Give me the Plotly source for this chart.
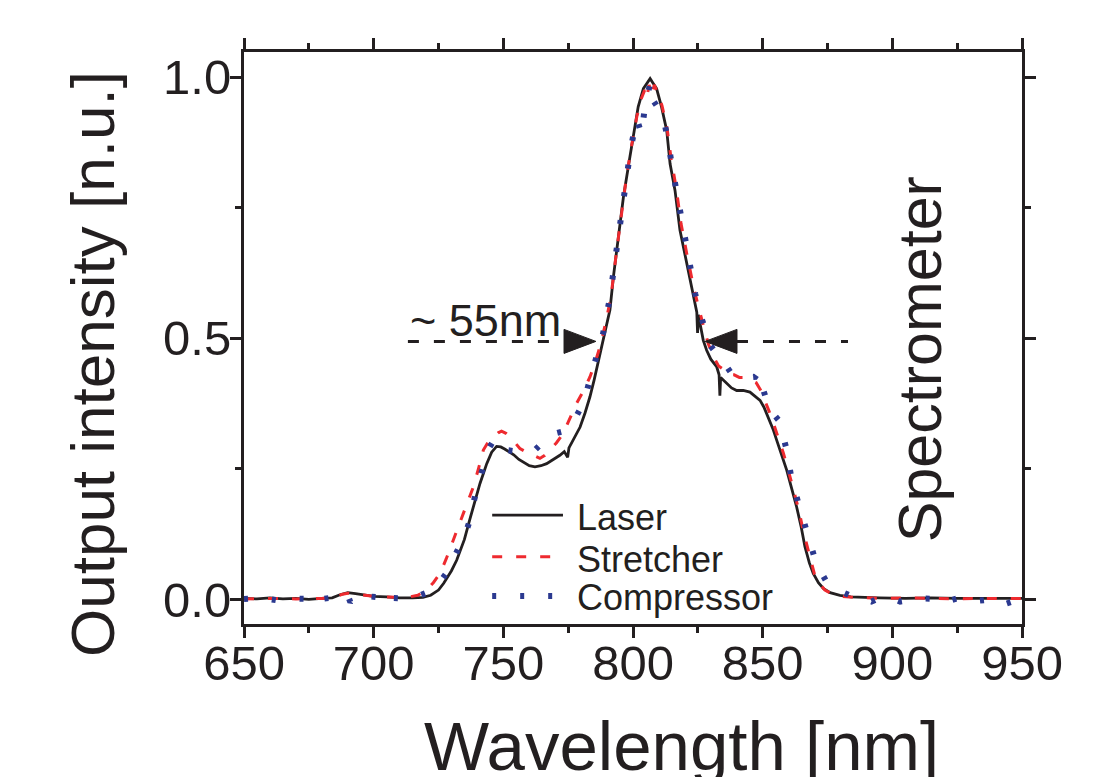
import plotly.graph_objects as go

# ---------------- data ----------------
laser_x = [650, 655, 660, 665, 670, 675, 680, 684, 687, 690, 693, 697, 700, 705, 710, 715, 719, 722, 725, 727,
           730, 732, 735, 737, 739, 741, 743.6, 745.5, 747.4, 749, 750.5, 752, 754, 756, 758, 760, 762.2, 764.5,
           766.7, 769, 771.8, 773.5, 774.8, 775.3, 777, 779.6, 781.5, 783.4, 785, 786.5, 788.6, 791.1, 792.5,
           794.3, 796.3, 798.8, 800.5, 802, 804, 805, 806.6, 807.5, 809.1, 811, 813, 814.3, 816.2, 818.1, 820.7,
           823.3, 824.6, 824.9, 825.2, 827.1, 828.4, 830, 832.3, 833.2, 833.5, 833.8, 836.1, 838, 840, 842.5,
           845.1, 847, 849, 850.5, 852.2, 854, 855.4, 857.5, 859.3, 861.2, 863.1, 864.8, 866.3, 868, 869.5,
           871.5, 873.4, 876, 879.8, 884, 887.5, 895, 905, 915, 925, 935, 945, 950]
laser_y = [0.002, 0.001, 0.003, 0.001, 0.002, 0.000, 0.002, 0.003, 0.009, 0.013, 0.011, 0.008, 0.006, 0.005,
           0.003, 0.003, 0.004, 0.008, 0.018, 0.031, 0.055, 0.075, 0.115, 0.152, 0.188, 0.222, 0.260, 0.282,
           0.293, 0.292, 0.288, 0.283, 0.277, 0.268, 0.262, 0.256, 0.254, 0.256, 0.260, 0.267, 0.276, 0.283,
           0.272, 0.290, 0.305, 0.330, 0.357, 0.388, 0.420, 0.452, 0.496, 0.554, 0.620, 0.694, 0.770, 0.847,
           0.900, 0.943, 0.978, 0.985, 0.997, 0.990, 0.978, 0.943, 0.898, 0.834, 0.783, 0.707, 0.643, 0.579,
           0.550, 0.510, 0.545, 0.496, 0.477, 0.460, 0.445, 0.430, 0.390, 0.425, 0.413, 0.405, 0.400, 0.400,
           0.397, 0.390, 0.381, 0.368, 0.349, 0.326, 0.305, 0.275, 0.247, 0.212, 0.177, 0.140, 0.101, 0.070,
           0.050, 0.032, 0.021, 0.013, 0.008, 0.005, 0.004, 0.003, 0.002, 0.003, 0.002, 0.002, 0.001, 0.002]

stretcher_x = [650, 660, 670, 680, 685, 688, 690, 694, 698, 702, 708, 713, 717, 720.4, 723, 725.6, 728, 730.7,
               732.5, 734.6, 736.5, 738.4, 740.5, 742.3, 744, 746.1, 748, 749.3, 751, 752.6, 754.5, 756.4, 758.5,
               760.3, 762, 764.1, 766, 768, 770.5, 773.1, 775.5, 778.2, 781, 783.4, 785.5, 787.2, 789.5, 791.5,
               793.5, 795.5, 797.5, 799.5, 801.5, 803.3, 804.5, 805.3, 806.2, 807.3, 808.2, 809.5, 811.2, 813.2,
               814.8, 816.6, 818.5, 821, 823.5, 825.5, 827.3, 829, 831, 833, 835, 837, 839, 841, 843.5, 845.5,
               847.5, 849.3, 851, 852.5, 854.3, 856, 858, 860, 862, 864, 865.7, 867.2, 868.7, 870, 872, 874, 877,
               880, 886, 895, 905, 915, 925, 935, 945, 950]
stretcher_y = [0.001, 0.002, 0.001, 0.002, 0.004, 0.010, 0.012, 0.010, 0.007, 0.005, 0.004, 0.004, 0.008, 0.018,
               0.032, 0.050, 0.078, 0.113, 0.138, 0.165, 0.190, 0.215, 0.252, 0.286, 0.300, 0.311, 0.319, 0.322,
               0.318, 0.311, 0.300, 0.289, 0.283, 0.279, 0.275, 0.270, 0.276, 0.286, 0.300, 0.318, 0.345, 0.375,
               0.400, 0.426, 0.455, 0.483, 0.530, 0.580, 0.660, 0.740, 0.810, 0.870, 0.925, 0.960, 0.975, 0.960,
               0.985, 0.965, 0.985, 0.970, 0.945, 0.900, 0.840, 0.790, 0.720, 0.655, 0.595, 0.555, 0.520, 0.490,
               0.465, 0.447, 0.440, 0.430, 0.430, 0.425, 0.425, 0.420, 0.415, 0.400, 0.380, 0.360, 0.335, 0.310,
               0.280, 0.245, 0.205, 0.170, 0.130, 0.100, 0.072, 0.048, 0.030, 0.018, 0.010, 0.006, 0.004, 0.002,
               0.003, 0.002, 0.001, 0.002, 0.002, 0.002]

compressor_x = [650, 657, 663, 668, 675, 678, 680, 685, 688, 690, 691, 693, 698, 702, 703.5, 706, 712, 716, 720,
                723, 725.6, 728, 731, 733.9, 736, 737, 739.7, 742.3, 744.5, 746.7, 748.5, 751.3, 754, 757, 760,
                762.2, 765, 767.3, 770, 772.4, 775, 777.6, 780.8, 783.4, 786, 788.5, 791, 793, 795, 797, 799, 800,
                801.5, 803.3, 804.5, 806, 806.8, 807.8, 809, 810.5, 812, 813.5, 815, 817, 819, 821.5, 824, 826,
                828, 830, 831.5, 833.6, 835.5, 837.5, 840, 842.5, 845, 847.1, 848.3, 849.2, 850.3, 852, 853.5,
                855, 856.7, 858, 859.3, 861.2, 862.8, 864.4, 866, 867.6, 870, 872.1, 874.5, 877, 879.8, 884, 888,
                892, 895, 900, 903, 910, 917, 920, 925, 932, 940, 944, 950]
compressor_y = [0.001, 0.003, -0.002, 0.002, 0.001, -0.008, 0.001, 0.004, 0.010, 0.008, -0.005, 0.008, 0.006,
                0.004, -0.008, 0.003, 0.002, 0.004, 0.012, 0.022, 0.034, 0.050, 0.078, 0.110, 0.135, 0.150, 0.212,
                0.260, 0.290, 0.308, 0.302, 0.286, 0.284, 0.282, 0.285, 0.286, 0.300, 0.314, 0.318, 0.321, 0.332,
                0.346, 0.375, 0.420, 0.467, 0.510, 0.575, 0.650, 0.730, 0.800, 0.860, 0.885, 0.920, 0.890, 0.940,
                0.975, 0.990, 0.955, 0.945, 0.935, 0.915, 0.880, 0.830, 0.775, 0.710, 0.645, 0.585, 0.545, 0.510,
                0.485, 0.475, 0.464, 0.450, 0.436, 0.430, 0.428, 0.425, 0.426, 0.435, 0.410, 0.400, 0.375, 0.359,
                0.350, 0.340, 0.310, 0.286, 0.228, 0.200, 0.171, 0.140, 0.113, 0.080, 0.056, 0.035, 0.022, 0.015,
                0.007, 0.004, -0.004, 0.003, 0.002, -0.004, 0.002, 0.001, -0.006, 0.002, -0.003, 0.001, -0.008,
                0.002]

series_names = ["Laser", "Stretcher", "Compressor"]
x_tick_vals = [650, 700, 750, 800, 850, 900, 950]
y_tick_vals = [0.0, 0.5, 1.0]

# annotation anchors (data units)
fwhm_label = "~ 55nm"
fwhm_level = 0.494
left_dash = (713.2, 769.2)
left_arrow = (773.4, 785.7)   # base, tip
right_arrow = (840.1, 827.8)  # base, tip
right_dash = (840.1, 882.9)
arrow_half_h = 0.023

# ---------------- style ----------------
FONT = "Liberation Sans, Arial, Helvetica, sans-serif"
INK = "#231f20"
RED = "#ee2a2f"
BLUE = "#2b3990"
styles = [
    dict(color=INK, width=2.8, dash="solid"),
    dict(color=RED, width=3, dash="10px,14px"),
    dict(color=BLUE, width=6, dash="4px,24px"),
]

fig = go.Figure()
for name, xs, ys, st in zip(series_names,
                            [laser_x, stretcher_x, compressor_x],
                            [laser_y, stretcher_y, compressor_y], styles):
    fig.add_trace(go.Scatter(x=xs, y=ys, mode="lines", name=name, line=st, showlegend=False))

shapes = []
# FWHM dashed guide lines
for (a, b) in [left_dash, right_dash]:
    shapes.append(dict(type="line", xref="x", yref="y", x0=a, x1=b, y0=fwhm_level, y1=fwhm_level,
                       line=dict(color=INK, width=3, dash="11px,15px")))
# arrow heads
for (base, tip) in [left_arrow, right_arrow]:
    path = (f"M {base},{fwhm_level - arrow_half_h} L {tip},{fwhm_level} "
            f"L {base},{fwhm_level + arrow_half_h} Z")
    shapes.append(dict(type="path", xref="x", yref="y", path=path,
                       fillcolor=INK, line=dict(color=INK, width=1)))

# manual legend
leg_x0, leg_x1, leg_tx = 0.319, 0.410, 0.425
leg_line_y = [0.1905, 0.1176, 0.0489]
leg_text_y = [0.186, 0.113, 0.046]
for st, ly in zip(styles, leg_line_y):
    shapes.append(dict(type="line", xref="paper", yref="paper", x0=leg_x0, x1=leg_x1, y0=ly, y1=ly,
                       line=st))

annotations = []
for name, ty in zip(series_names, leg_text_y):
    annotations.append(dict(text=name, xref="paper", yref="paper", x=leg_tx, y=ty, xanchor="left",
                            yanchor="middle", showarrow=False, font=dict(size=36, color=INK, family=FONT)))

annotations += [
    dict(text=fwhm_label, xref="x", yref="y", x=left_dash[0], y=0.534, xanchor="left", yanchor="middle",
         showarrow=False, font=dict(size=45, color=INK, family=FONT)),
    dict(text="Spectrometer", xref="paper", yref="paper", x=0.869, y=0.463, textangle=-90,
         xanchor="center", yanchor="middle", showarrow=False, font=dict(size=61, color=INK, family=FONT)),
    dict(text="Wavelength [nm]", xref="paper", yref="paper", x=0.5623, y=-0.215, xanchor="center",
         yanchor="middle", showarrow=False, font=dict(size=69, color=INK, family=FONT)),
    dict(text="Output intensity [n.u.]", xref="paper", yref="paper", x=-0.195, y=0.455, textangle=-90,
         xanchor="center", yanchor="middle", showarrow=False, font=dict(size=62, color=INK, family=FONT)),
]

axis_common = dict(showline=True, linecolor=INK, linewidth=3, mirror="allticks", ticks="outside",
                   ticklen=11, tickwidth=3, tickcolor=INK, showgrid=False, zeroline=False,
                   tickfont=dict(size=49, color=INK, family=FONT))

# page body adds an 8px offset; margins compensate so the plot box lands at x 244-1022, y 52-624
fig.update_layout(
    width=1103, height=777,
    margin=dict(l=236, r=89, t=44, b=161),
    paper_bgcolor="white", plot_bgcolor="white",
    font=dict(family=FONT, color=INK),
    shapes=shapes, annotations=annotations,
    xaxis=dict(range=[650, 950], tickvals=x_tick_vals, ticklabelstandoff=-17,
               minor=dict(ticks="outside", ticklen=6, tickwidth=3, tickcolor=INK, dtick=25, tick0=650),
               **axis_common),
    yaxis=dict(range=[-0.047, 1.048], tickvals=y_tick_vals, tickformat=".1f", ticklabelstandoff=-11,
               minor=dict(ticks="outside", ticklen=6, tickwidth=3, tickcolor=INK, dtick=0.25, tick0=0),
               **axis_common),
)

fig.write_html("out.html")
